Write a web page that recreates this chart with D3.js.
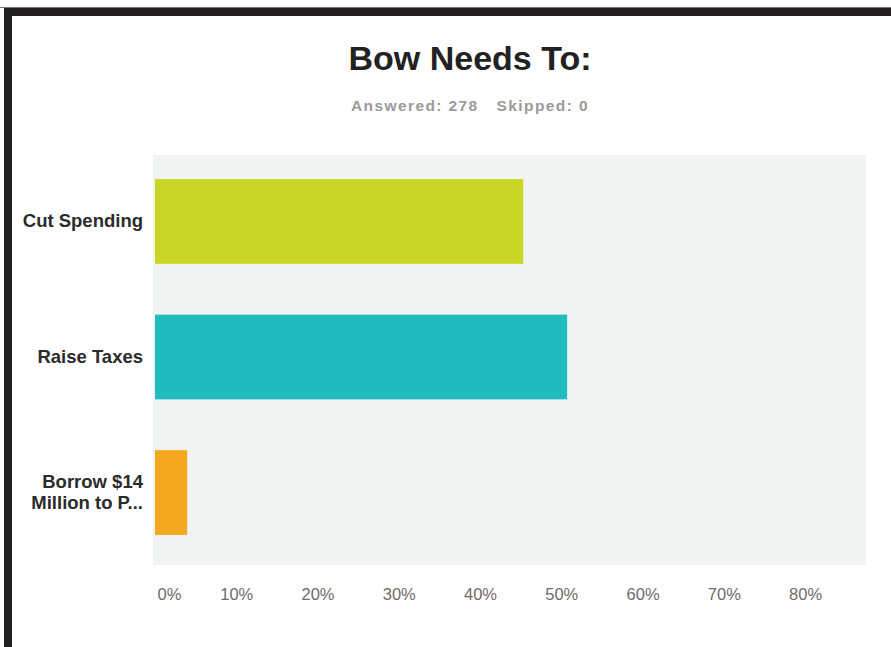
<!DOCTYPE html>
<html>
<head>
<meta charset="utf-8">
<script src="https://cdn.jsdelivr.net/npm/d3@7"></script>
<style>
  body { margin: 0; background: #fff; }
  svg { display: block; font-family: "Liberation Sans", Arial, sans-serif; }
</style>
</head>
<body>
<div id="chart"></div>
<script>
const categories = ["Cut Spending", "Raise Taxes", "Borrow $14 Million to P..."];
const labelLines = [["Cut Spending"], ["Raise Taxes"], ["Borrow $14", "Million to P..."]];
const shares = [0.4532, 0.5072, 0.0396];
const barColors = ["#c8d625", "#20bcbe", "#f4a81d"];
const tickValues = [0, 0.1, 0.2, 0.3, 0.4, 0.5, 0.6, 0.7, 0.8];
const answered = 278, skipped = 0;

const W = 891, H = 647;
const plot = { left: 155, right: 866, top: 155, bottom: 565 };

const svg = d3.select("#chart").append("svg")
  .attr("width", W)
  .attr("height", H);

// photo frame edges (black border top and left)
svg.append("rect").attr("x", 0).attr("y", 7).attr("width", W).attr("height", 1).attr("fill", "#777");
svg.append("rect").attr("x", 4).attr("y", 8).attr("width", W).attr("height", 8).attr("fill", "#231f20");
svg.append("rect").attr("x", 4).attr("y", 8).attr("width", 8).attr("height", H).attr("fill", "#231f20");

const x = d3.scaleLinear()
  .domain([0, 0.875])
  .range([plot.left, plot.right]);

const y = d3.scaleBand()
  .domain(categories)
  .range([plot.top - 3, plot.bottom - 3])
  .paddingInner(0.375)
  .paddingOuter(0.2);

// title
svg.append("text")
  .attr("x", 470).attr("y", 70)
  .attr("text-anchor", "middle")
  .attr("font-size", 34)
  .attr("font-weight", "bold")
  .attr("fill", "#222")
  .text("Bow Needs To:");

const sub = svg.append("text")
  .attr("x", 470).attr("y", 111)
  .attr("text-anchor", "middle")
  .attr("font-size", 15.5)
  .attr("font-weight", "bold")
  .attr("letter-spacing", 1.4)
  .attr("fill", "#9a9a9a");
sub.append("tspan").text(`Answered: ${answered}`);
sub.append("tspan").attr("dx", 18).text(`Skipped: ${skipped}`);

// plot background
svg.append("rect")
  .attr("x", plot.left - 2)
  .attr("y", plot.top)
  .attr("width", plot.right - plot.left + 2)
  .attr("height", plot.bottom - plot.top)
  .attr("fill", "#f2f3f3");

svg.selectAll("rect.bar")
  .data(categories)
  .enter()
  .append("rect")
  .attr("class", "bar")
  .attr("x", x(0))
  .attr("y", d => y(d))
  .attr("width", (d, i) => x(shares[i]) - x(0))
  .attr("height", y.bandwidth())
  .attr("fill", (d, i) => barColors[i]);

// category labels
const labels = svg.selectAll("text.cat")
  .data(categories)
  .enter()
  .append("text")
  .attr("class", "cat")
  .attr("text-anchor", "end")
  .attr("font-size", 18.5)
  .attr("font-weight", "bold")
  .attr("fill", "#2b2b2b");

labels.each(function(d, i) {
  const lines = labelLines[i];
  const cy = y(d) + y.bandwidth() / 2;
  const lh = 21;
  const t = d3.select(this);
  lines.forEach((ln, j) => {
    t.append("tspan")
      .attr("x", 143)
      .attr("y", cy + 6 + (j - (lines.length - 1) / 2) * lh)
      .text(ln);
  });
});

// x axis
const xAxis = svg.append("g")
  .attr("transform", `translate(0,${plot.bottom})`)
  .call(d3.axisBottom(x).tickValues(tickValues).tickFormat(d3.format(".0%")).tickSize(0).tickPadding(23));

xAxis.select(".domain").remove();
xAxis.selectAll("text")
  .attr("font-size", 16.5)
  .attr("font-family", "Liberation Sans, Arial, sans-serif")
  .attr("fill", "#6f6a6a");
xAxis.selectAll(".tick").filter(d => d === 0).select("text")
  .attr("text-anchor", "start")
  .attr("dx", 2);
</script>
</body>
</html>
